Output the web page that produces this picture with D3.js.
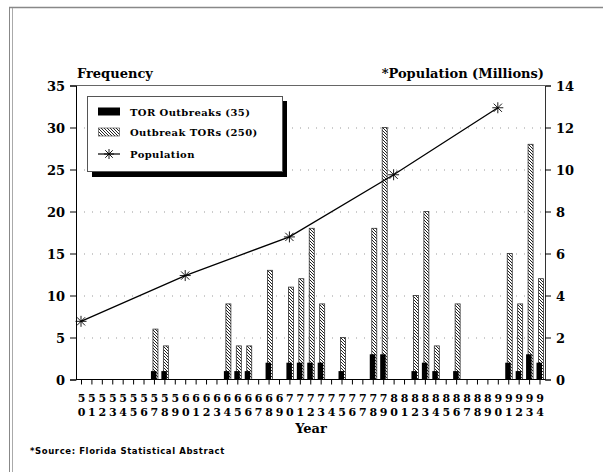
<!DOCTYPE html>
<html lang="en">
  <head>
    <meta charset="utf-8"/>
    <script src="https://d3js.org/d3.v7.min.js"></script>
    <style>
      body { margin: 0; background: #fff; }
      text { font-family: "DejaVu Serif", serif; font-weight: bold; fill: #000; }
    </style>
  </head>
  <body>
    <svg id="svg_main"></svg>
    <script>
      const width = 603;
      const height = 472;

      // values
      const years = [];
      for (let y = 1950; y <= 1994; y++) years.push(y);
      const torOutbreaks = [0,0,0,0,0,0,0,1,1,0, 0,0,0,0,1,1,1,0,2,0, 2,2,2,2,0,1,0,0,3,3, 0,0,1,2,1,0,1,0,0,0, 0,2,1,3,2];
      const outbreakTors = [0,0,0,0,0,0,0,6,4,0, 0,0,0,0,9,4,4,0,13,0, 11,12,18,9,0,5,0,0,18,30, 0,0,10,20,4,0,9,0,0,0, 0,15,9,28,12];
      const popYears = [1950, 1960, 1970, 1980, 1990];
      const population = [2.77, 4.95, 6.79, 9.75, 12.94];
      const leftTicks = [0, 5, 10, 15, 20, 25, 30, 35];
      const rightTicks = [0, 2, 4, 6, 8, 10, 12, 14];
      const legendLabels = ["TOR Outbreaks (35)", "Outbreak TORs (250)", "Population"];

      const plotLeft = 76, plotRight = 545, plotTop = 85.5, plotBottom = 379.5;

      const svg = d3.select("#svg_main")
          .attr("width", width)
          .attr("height", height);

      // hatch pattern for the outbreak TORs
      const pat = svg.append("defs").append("pattern")
          .attr("id", "hatch")
          .attr("patternUnits", "userSpaceOnUse")
          .attr("width", 3).attr("height", 3);
      pat.append("rect").attr("width", 3).attr("height", 3).attr("fill", "#fff");
      pat.append("path").attr("d", "M-1,-1 L4,4 M-1,2 L1,4 M2,-1 L4,1")
          .attr("stroke", "#222").attr("stroke-width", 1);

      // page frame
      svg.append("line").attr("x1", 9).attr("x2", width).attr("y1", 7.5).attr("y2", 7.5)
          .attr("stroke", "#888").attr("stroke-width", 1.5);
      svg.append("line").attr("x1", 9.5).attr("x2", 9.5).attr("y1", 7).attr("y2", height)
          .attr("stroke", "#888").attr("stroke-width", 1);
      svg.append("line").attr("x1", 12.5).attr("x2", 12.5).attr("y1", 8).attr("y2", height)
          .attr("stroke", "#aaa").attr("stroke-width", 1);

      const xScale = d3.scaleLinear().domain([1950, 1994]).range([81, 539.5]);
      const yScale = d3.scaleLinear().domain([0, 35]).range([plotBottom, plotTop]);
      const y2Scale = d3.scaleLinear().domain([0, 14]).range([plotBottom, plotTop]);

      // dotted grid
      svg.append("g").selectAll("line")
          .data(leftTicks.filter(d => d > 0 && d < 35))
          .join("line")
          .attr("x1", plotLeft).attr("x2", plotRight)
          .attr("y1", d => yScale(d) + 0.5).attr("y2", d => yScale(d) + 0.5)
          .attr("stroke", "#999").attr("stroke-width", 1)
          .attr("stroke-dasharray", "1,7");
      svg.append("line")
          .attr("x1", plotLeft).attr("x2", plotRight)
          .attr("y1", plotTop).attr("y2", plotTop)
          .attr("stroke", "#666").attr("stroke-width", 1);

      // bars
      const bars = svg.append("g");
      bars.selectAll(".tors")
          .data(years.filter((d, i) => outbreakTors[i] > 0))
          .join("rect")
          .attr("class", "tors")
          .attr("x", d => xScale(d) - 1)
          .attr("width", 5)
          .attr("y", d => yScale(outbreakTors[d - 1950]))
          .attr("height", d => plotBottom - yScale(outbreakTors[d - 1950]))
          .attr("fill", "url(#hatch)")
          .attr("stroke", "#333").attr("stroke-width", 0.8);
      bars.selectAll(".outbreaks")
          .data(years.filter((d, i) => torOutbreaks[i] > 0))
          .join("rect")
          .attr("class", "outbreaks")
          .attr("x", d => xScale(d) - 3)
          .attr("width", 5.5)
          .attr("y", d => yScale(torOutbreaks[d - 1950]))
          .attr("height", d => plotBottom - yScale(torOutbreaks[d - 1950]))
          .attr("fill", "#000");

      // population line
      const popData = popYears.map((d, i) => [d, population[i]]);
      const line = d3.line().x(d => xScale(d[0])).y(d => y2Scale(d[1]));
      svg.append("path").datum(popData)
          .attr("d", line)
          .attr("fill", "none")
          .attr("stroke", "#000").attr("stroke-width", 1.3);

      function star(sel, s) {
        sel.append("path")
            .attr("d", `M${-s},0L${s},0M0,${-s}L0,${s}M${-s*0.75},${-s*0.75}L${s*0.75},${s*0.75}M${-s*0.75},${s*0.75}L${s*0.75},${-s*0.75}`)
            .attr("stroke", "#000").attr("stroke-width", 0.9).attr("fill", "none");
      }
      svg.append("g").selectAll("g")
          .data(popData)
          .join("g")
          .attr("transform", d => `translate(${xScale(d[0])},${y2Scale(d[1])})`)
          .each(function() { star(d3.select(this), 5.5); });

      // left axis
      const yAxis = d3.axisLeft(yScale).tickValues(leftTicks).tickSize(6).tickPadding(5);
      const yAxis_g = svg.append("g")
          .attr("transform", "translate(" + plotLeft + ",0)")
          .call(yAxis);
      yAxis_g.select(".domain").attr("stroke", "#000");
      yAxis_g.selectAll("text").style("font-size", "13px").attr("dy", "0.35em");

      // right axis
      const y2Axis = d3.axisRight(y2Scale).tickValues(rightTicks).tickSize(6).tickPadding(5);
      const y2Axis_g = svg.append("g")
          .attr("transform", "translate(" + plotRight + ",0)")
          .call(y2Axis);
      y2Axis_g.select(".domain").attr("stroke", "#333");
      y2Axis_g.selectAll("text").style("font-size", "13px").attr("dy", "0.35em");

      // x axis, two-digit labels stacked
      svg.append("line")
          .attr("x1", plotLeft).attr("x2", plotRight)
          .attr("y1", plotBottom).attr("y2", plotBottom)
          .attr("stroke", "#000");
      const xAxis = d3.axisBottom(xScale).tickValues(years).tickSize(5).tickFormat("");
      const xAxis_g = svg.append("g")
          .attr("transform", "translate(0," + plotBottom + ")")
          .call(xAxis);
      xAxis_g.select(".domain").remove();
      xAxis_g.selectAll(".tick").each(function(d) {
        const s = String(d);
        const t = d3.select(this).append("text")
            .attr("y", 22.5).attr("text-anchor", "middle")
            .style("font-size", "11px");
        t.append("tspan").attr("x", 0).text(s[2]);
        t.append("tspan").attr("x", 0).attr("dy", 13.5).text(s[3]);
      });

      // titles
      svg.append("text").attr("x", 77).attr("y", 78)
          .style("font-size", "13px").text("Frequency");
      svg.append("text").attr("x", 544).attr("y", 78).attr("text-anchor", "end")
          .style("font-size", "13px").text("*Population (Millions)");
      svg.append("text").attr("x", 311).attr("y", 433).attr("text-anchor", "middle")
          .style("font-size", "13px").text("Year");
      svg.append("text").attr("x", 30).attr("y", 454)
          .style("font-family", "'DejaVu Sans', sans-serif")
          .style("font-size", "8.5px").style("letter-spacing", "0.6px")
          .text("*Source: Florida Statistical Abstract");

      // legend
      const lg = svg.append("g");
      lg.append("rect").attr("x", 92).attr("y", 101).attr("width", 195).attr("height", 76).attr("fill", "#000");
      lg.append("rect").attr("x", 87.5).attr("y", 96.5).attr("width", 195).attr("height", 75)
          .attr("fill", "#fff").attr("stroke", "#555").attr("stroke-width", 1);
      const rows = [112, 132, 154];
      lg.append("rect").attr("x", 98).attr("y", rows[0] - 4.5).attr("width", 22).attr("height", 8).attr("fill", "#000");
      lg.append("rect").attr("x", 98.5).attr("y", rows[1] - 4).attr("width", 21).attr("height", 8)
          .attr("fill", "url(#hatch)").attr("stroke", "#555").attr("stroke-width", 0.7);
      lg.append("line").attr("x1", 98).attr("x2", 120).attr("y1", rows[2]).attr("y2", rows[2])
          .attr("stroke", "#000").attr("stroke-width", 1.2);
      lg.append("g").attr("transform", `translate(109,${rows[2]})`).call(star, 5);
      lg.selectAll(".lt")
          .data(legendLabels)
          .join("text")
          .attr("class", "lt")
          .attr("x", 130).attr("y", (d, i) => rows[i] + 4)
          .style("font-size", "10px").style("letter-spacing", "0.4px")
          .text(d => d);
    </script>
  </body>
</html>
